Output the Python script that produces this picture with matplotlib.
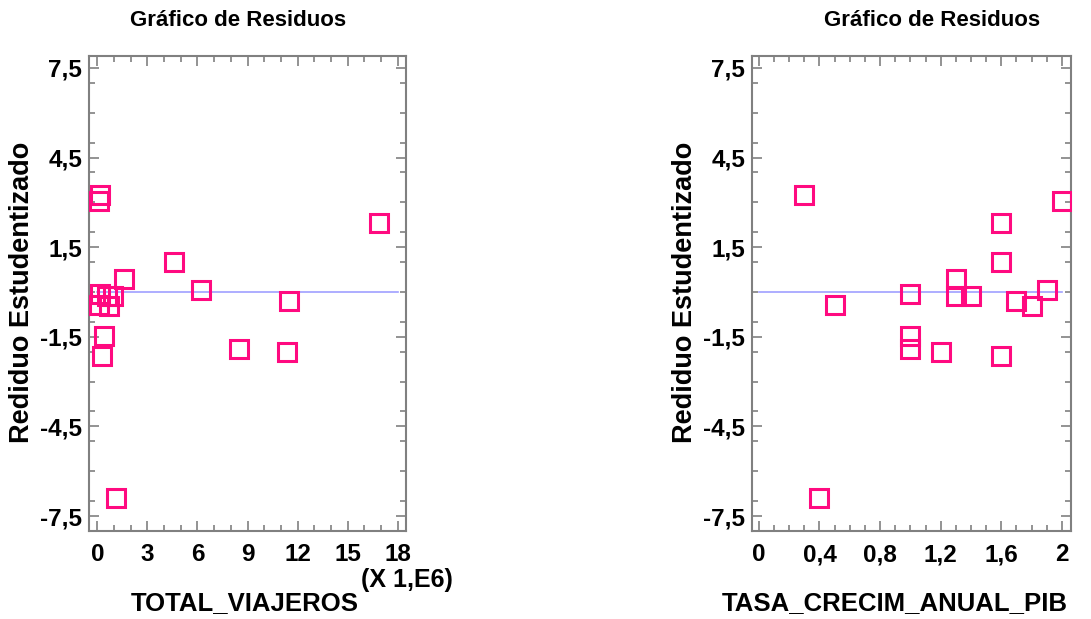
import numpy as np
import matplotlib
matplotlib.use('Agg')
import matplotlib.pyplot as plt
from matplotlib.ticker import FixedLocator, MultipleLocator

plt.rcParams['font.family'] = ['Liberation Sans', 'DejaVu Sans']
plt.rcParams['font.weight'] = 'bold'

# residuos estudentizados (mismo orden en ambos graficos)
residuos = [3.25, 3.05, 2.30, 1.02, 0.43, 0.05, -0.30, -1.91, -2.00, -1.46,
            -2.13, -6.89, -0.06, -0.12, -0.15, -0.42, -0.46]
total_viajeros = [0.18, 0.10, 16.87, 4.58, 1.58, 6.24, 11.5, 8.5, 11.38, 0.38,
                  0.26, 1.10, 0.15, 0.95, 0.55, 0.12, 0.72]
tasa_pib = [0.30, 2.00, 1.60, 1.60, 1.30, 1.90, 1.70, 1.00, 1.20, 1.00,
            1.60, 0.40, 1.00, 1.30, 1.40, 0.50, 1.80]

y_ticks = [-7.5, -4.5, -1.5, 1.5, 4.5, 7.5]
x_ticks_viajeros = [0, 3, 6, 9, 12, 15, 18]
x_ticks_pib = [0, 0.4, 0.8, 1.2, 1.6, 2.0]

rosa = '#ff0a80'
azul = '#a0a0ff'
gris = '#808080'


def coma(v):
    s = ('%g' % v).replace('.', ',')
    return s


def panel(ax, x, y, xt, xlim, minor):
    ax.plot(x, y, linestyle='none', marker='s', markersize=12.5,
            markerfacecolor='none', markeredgecolor=rosa, markeredgewidth=2.2,
            zorder=3)
    ax.plot([xt[0], xt[-1]], [0, 0], color=azul, linewidth=1.2, zorder=2)
    ax.set_xlim(*xlim)
    ax.set_ylim(-8.0, 7.9)
    ax.xaxis.set_major_locator(FixedLocator(xt))
    ax.yaxis.set_major_locator(FixedLocator(y_ticks))
    ax.xaxis.set_minor_locator(MultipleLocator(minor))
    ax.yaxis.set_minor_locator(MultipleLocator(1))
    ax.set_xticklabels([coma(v) for v in xt])
    ax.set_yticklabels([coma(v) for v in y_ticks])
    for s in ax.spines.values():
        s.set_color(gris)
        s.set_linewidth(1.5)
    ax.tick_params(which='both', direction='in', top=True, right=True,
                   color=gris, width=1.2, labelsize=17.5)
    ax.tick_params(which='major', length=7)
    ax.tick_params(which='minor', length=4)
    ax.tick_params(axis='x', pad=9)
    ax.tick_params(axis='y', pad=5)


fig = plt.figure(figsize=(10.91, 6.19), dpi=100)
ax1 = fig.add_axes([0.0816, 0.1422, 0.2906, 0.7674])
ax2 = fig.add_axes([0.6893, 0.1422, 0.2924, 0.7674])

panel(ax1, total_viajeros, residuos, x_ticks_viajeros, (-0.5, 18.5), 1)
panel(ax2, tasa_pib, residuos, x_ticks_pib, (-0.045, 2.06), 0.1)

fig.text(238 / 1091, 1 - 21 / 619, 'Gráfico de Residuos', ha='center',
         va='center', fontsize=16, fontweight='bold')
fig.text(932 / 1091, 1 - 21 / 619, 'Gráfico de Residuos', ha='center',
         va='center', fontsize=16, fontweight='bold')

fig.text(245 / 1091, 1 - 603 / 619, 'TOTAL_VIAJEROS', ha='center',
         va='center', fontsize=18.5, fontweight='bold')
fig.text(895 / 1091, 1 - 603 / 619, 'TASA_CRECIM_ANUAL_PIB', ha='center',
         va='center', fontsize=18.5, fontweight='bold')
fig.text(407 / 1091, 1 - 580 / 619, '(X 1,E6)', ha='center',
         va='center', fontsize=18, fontweight='bold')

fig.text(22 / 1091, 1 - 292 / 619, 'Rediduo Estudentizado', ha='center',
         va='center', rotation=90, fontsize=19.5, fontweight='bold')
fig.text(685 / 1091, 1 - 292 / 619, 'Rediduo Estudentizado', ha='center',
         va='center', rotation=90, fontsize=19.5, fontweight='bold')

fig.savefig('out.png', dpi=100)
